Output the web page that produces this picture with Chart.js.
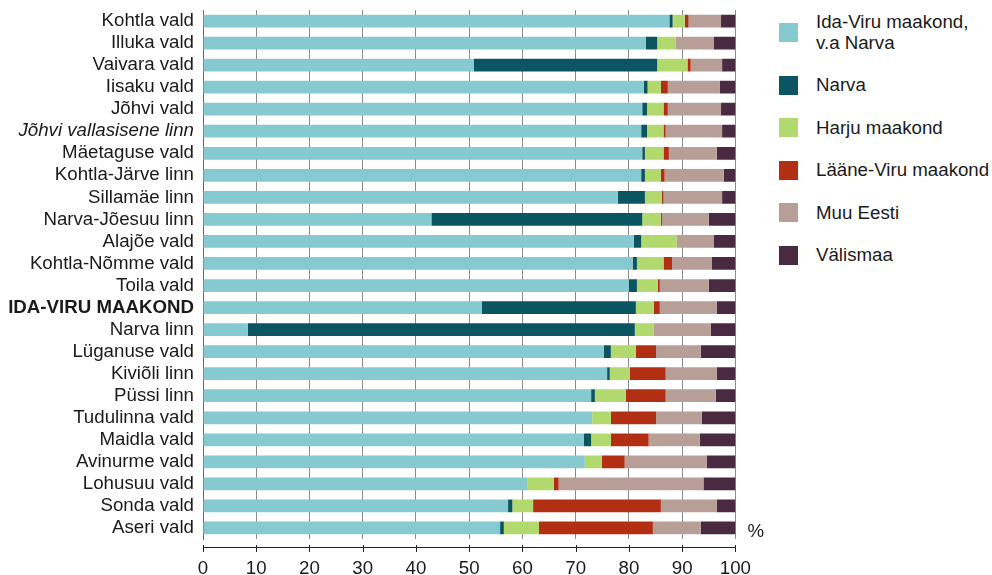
<!DOCTYPE html>
<html>
<head>
<meta charset="utf-8">
<script src="https://cdn.jsdelivr.net/npm/chart.js@4"></script>
<style>
    body { margin: 0; background: #fff; font-family: 'Liberation Sans', Arial, sans-serif; }
    #wrap { position: relative; width: 992px; height: 575px; }
    #chartBox { position: absolute; left: 0; top: 0; width: 770px; height: 575px; }
    #legend { position: absolute; left: 779px; top: 12px; display: flex; flex-direction: column; gap: 22px; }
    .item { display: flex; align-items: center; font-size: 18.7px; line-height: 20.5px; color: #1a1a1a; }
    .swatch { width: 19px; height: 19px; margin-right: 18px; flex: none; }
</style>
</head>
<body>
<div id="wrap">
    <div id="chartBox"><canvas id="originChart"></canvas></div>
    <div id="legend"></div>
</div>
<script>
const categories = [
    'Kohtla vald', 'Illuka vald', 'Vaivara vald', 'Iisaku vald', 'Jõhvi vald',
    'Jõhvi vallasisene linn', 'Mäetaguse vald', 'Kohtla-Järve linn', 'Sillamäe linn',
    'Narva-Jõesuu linn', 'Alajõe vald', 'Kohtla-Nõmme vald', 'Toila vald',
    'IDA-VIRU MAAKOND', 'Narva linn', 'Lüganuse vald', 'Kiviõli linn', 'Püssi linn',
    'Tudulinna vald', 'Maidla vald', 'Avinurme vald', 'Lohusuu vald', 'Sonda vald', 'Aseri vald'
];

const seriesLabels = ['Ida-Viru maakond, v.a Narva', 'Narva', 'Harju maakond', 'Lääne-Viru maakond', 'Muu Eesti', 'Välismaa'];
const seriesColors = ['#86c9d0', '#0b5461', '#b1d96e', '#b32f14', '#b79f97', '#4a2a40'];

const idaViru   = [87.6, 83.2, 50.9, 82.8, 82.5, 82.3, 82.5, 82.3, 77.9, 42.9, 80.9, 80.7, 80.0, 52.4, 8.4, 75.3, 75.9, 72.9, 73.1, 71.5, 71.7, 61.0, 57.3, 55.8];
const narva     = [0.6, 2.1, 34.4, 0.7, 0.9, 1.1, 0.5, 0.7, 5.1, 39.6, 1.4, 0.8, 1.5, 28.9, 72.7, 1.3, 0.5, 0.7, 0, 1.4, 0, 0, 0.8, 0.7];
const harju     = [2.3, 3.5, 5.7, 2.5, 3.1, 3.1, 3.5, 3.0, 3.2, 3.5, 6.7, 5.0, 3.9, 3.4, 3.6, 4.7, 3.8, 5.8, 3.5, 3.7, 3.2, 4.9, 3.9, 6.6];
const laaneViru = [0.7, 0, 0.6, 1.3, 0.8, 0.4, 1.0, 0.7, 0.3, 0.2, 0, 1.6, 0.4, 1.1, 0, 3.8, 6.7, 7.5, 8.5, 7.1, 4.3, 0.9, 24.0, 21.4];
const muuEesti  = [6.1, 7.1, 5.9, 9.8, 10.0, 10.6, 9.0, 11.1, 11.0, 8.8, 6.9, 7.5, 9.2, 10.7, 10.7, 8.4, 9.6, 9.4, 8.6, 9.6, 15.4, 27.2, 10.5, 9.0];
const valismaa  = [2.7, 4.1, 2.5, 2.9, 2.7, 2.5, 3.5, 2.2, 2.5, 5.0, 4.1, 4.4, 5.0, 3.5, 4.6, 6.5, 3.5, 3.7, 6.3, 6.7, 5.4, 6.0, 3.5, 6.5];

const xTicks = [0, 10, 20, 30, 40, 50, 60, 70, 80, 90, 100];

const FONT = "'Liberation Sans', Arial, sans-serif";
const FONT_SIZE = 18.7;

// eraldi x-telg veidi allpool joonise ala, nagu originaalis
const offsetAxis = {
    id: 'offsetAxis',
    afterDraw(chart) {
        const { ctx, chartArea, scales } = chart;
        const x = scales.x;
        const y0 = chartArea.bottom + 8;
        ctx.save();
        ctx.strokeStyle = '#222';
        ctx.lineWidth = 1;
        ctx.beginPath();
        ctx.moveTo(chartArea.left, y0 + 0.5);
        ctx.lineTo(chartArea.right, y0 + 0.5);
        xTicks.forEach(v => {
            const px = Math.round(x.getPixelForValue(v)) + 0.5;
            ctx.moveTo(px, y0 - 2);
            ctx.lineTo(px, y0 + 5);
        });
        ctx.stroke();
        ctx.fillStyle = '#1a1a1a';
        ctx.font = FONT_SIZE + 'px ' + FONT;
        ctx.textBaseline = 'middle';
        ctx.fillText('%', chartArea.right + 12, chartArea.bottom - 7);
        ctx.restore();
    }
};

const values = [idaViru, narva, harju, laaneViru, muuEesti, valismaa];

const ctx = document.getElementById('originChart').getContext('2d');
const originChart = new Chart(ctx, {
    type: 'bar',
    data: {
        labels: categories,
        datasets: values.map((data, i) => ({
            label: seriesLabels[i],
            data: data,
            backgroundColor: seriesColors[i],
            borderWidth: 0,
            categoryPercentage: 1,
            barPercentage: 0.58
        }))
    },
    options: {
        indexAxis: 'y',
        responsive: true,
        maintainAspectRatio: false,
        animation: false,
        layout: { padding: { top: 10, right: 34, left: 0, bottom: 0 } },
        plugins: {
            legend: { display: false },
            tooltip: { enabled: false }
        },
        scales: {
            x: {
                stacked: true,
                min: 0,
                max: 100,
                afterBuildTicks: scale => { scale.ticks = xTicks.map(v => ({ value: v })); },
                afterFit: scale => { scale.height = 36; },
                grid: { color: '#8a8a8a', lineWidth: 1, drawTicks: false },
                border: { display: false },
                ticks: {
                    padding: 19,
                    color: '#1a1a1a',
                    font: { family: FONT, size: FONT_SIZE }
                }
            },
            y: {
                stacked: true,
                afterFit: scale => {
                    scale.width = 203;
                    scale.paddingTop = 0;
                    scale.paddingBottom = 0;
                },
                grid: { display: false, drawTicks: false },
                border: { display: true, color: '#666', width: 1 },
                ticks: {
                    padding: 9,
                    color: '#1a1a1a',
                    autoSkip: false,
                    font: c => ({
                        family: FONT,
                        size: FONT_SIZE,
                        weight: categories[c.index] === 'IDA-VIRU MAAKOND' ? 'bold' : 'normal',
                        style: categories[c.index] === 'Jõhvi vallasisene linn' ? 'italic' : 'normal'
                    })
                }
            }
        }
    },
    plugins: [offsetAxis]
});

// HTML legend, et esimene silt saaks kahel real olla
const legendEl = document.getElementById('legend');
seriesLabels.forEach((label, i) => {
    const item = document.createElement('div');
    item.className = 'item';
    const sw = document.createElement('span');
    sw.className = 'swatch';
    sw.style.background = seriesColors[i];
    const txt = document.createElement('span');
    label.split(', ').forEach((part, j, arr) => {
        txt.appendChild(document.createTextNode(part + (j < arr.length - 1 ? ',' : '')));
        if (j < arr.length - 1) txt.appendChild(document.createElement('br'));
    });
    item.appendChild(sw);
    item.appendChild(txt);
    legendEl.appendChild(item);
});
</script>
</body>
</html>
